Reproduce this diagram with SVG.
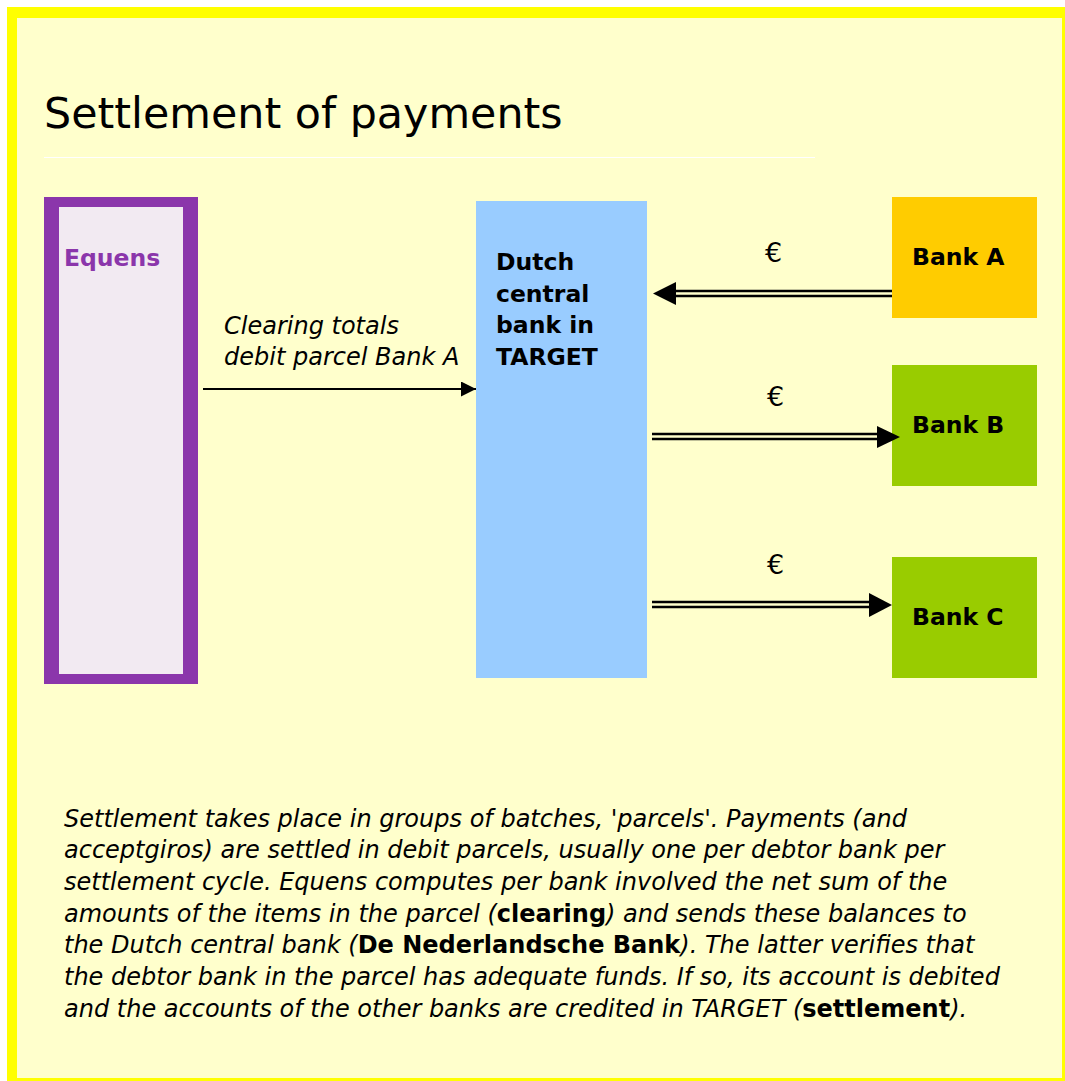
<svg xmlns="http://www.w3.org/2000/svg" width="1065" height="1081" viewBox="0 0 1065 1081">
<style>
.t{font-family:"DejaVu Sans",Verdana,sans-serif;fill:#000}
.b{font-weight:bold;font-size:23.5px}
.i{font-style:italic;font-size:24px}
.eur{font-family:"DejaVu Sans",sans-serif;font-size:27px;fill:#000}
.ln{stroke:#000;stroke-width:2;fill:none}
.dl{stroke:#000;stroke-width:2.4;fill:none}
</style>
<defs>
<marker id="ah" markerWidth="15" markerHeight="15" refX="15" refY="7.5" orient="auto" markerUnits="userSpaceOnUse">
<path d="M0,0 L15,7.5 L0,15 Z" fill="#000"/>
</marker>
</defs>
<rect x="0" y="0" width="1065" height="1081" fill="#FFFFFF"/>
<rect x="7" y="7" width="1058" height="1074" fill="#FFFF00"/>
<rect x="17" y="18" width="1045" height="1060" fill="#FFFFCC"/>
<line x1="44" y1="157.5" x2="815" y2="157.5" stroke="#FFFFFF" stroke-width="1"/>
<text class="t" x="44" y="128" font-size="42.8">Settlement of payments</text>
<g id="equens">
<rect x="44" y="197" width="154" height="487" fill="#8B36AB"/>
<rect x="59" y="207" width="124" height="467" fill="#F2EAF2"/>
<text class="t b" x="64" y="266" style="fill:#8B36AB">Equens</text>
</g>
<g id="dnb">
<rect x="476" y="201" width="171" height="477" fill="#99CCFF"/>
<text class="t b" x="496" y="270">Dutch</text>
<text class="t b" x="496" y="302">central</text>
<text class="t b" x="496" y="333">bank in</text>
<text class="t b" x="496" y="365">TARGET</text>
</g>
<g id="bankA">
<rect x="892" y="197" width="145" height="121" fill="#FFCC00"/>
<text class="t b" x="912" y="265">Bank A</text>
</g>
<g id="bankB">
<rect x="892" y="365" width="145" height="121" fill="#99CC00"/>
<text class="t b" x="912" y="433">Bank B</text>
</g>
<g id="bankC">
<rect x="892" y="557" width="145" height="121" fill="#99CC00"/>
<text class="t b" x="912" y="625">Bank C</text>
</g>
<g id="connectors">
<line class="ln" x1="203" y1="389" x2="476" y2="389" marker-end="url(#ah)"/>
<text class="t i" x="224" y="334">Clearing totals</text>
<text class="t i" x="224" y="365">debit parcel Bank A</text>
<line class="dl" x1="892" y1="291" x2="676" y2="291"/>
<line class="dl" x1="892" y1="296" x2="676" y2="296"/>
<path d="M676,282 L653,293.5 L676,305 Z" fill="#000"/>
<text class="eur" x="765" y="262">€</text>
<line class="dl" x1="652" y1="434" x2="878" y2="434"/>
<line class="dl" x1="652" y1="439" x2="878" y2="439"/>
<path d="M877,426 L900,437 L877,448 Z" fill="#000"/>
<text class="eur" x="767" y="406">€</text>
<line class="dl" x1="652" y1="602" x2="870" y2="602"/>
<line class="dl" x1="652" y1="607" x2="870" y2="607"/>
<path d="M869,593 L892,605 L869,617 Z" fill="#000"/>
<text class="eur" x="767" y="574">€</text>
</g>
<g id="caption" class="t i">
<text x="64" y="827">Settlement takes place in groups of batches, 'parcels'. Payments (and</text>
<text x="64" y="858">acceptgiros) are settled in debit parcels, usually one per debtor bank per</text>
<text x="64" y="890">settlement cycle. Equens computes per bank involved the net sum of the</text>
<text x="64" y="922">amounts of the items in the parcel (<tspan font-style="normal" font-weight="bold">clearing</tspan>) and sends these balances to</text>
<text x="64" y="953">the Dutch central bank (<tspan font-style="normal" font-weight="bold">De Nederlandsche Bank</tspan>). The latter verifies that</text>
<text x="64" y="985">the debtor bank in the parcel has adequate funds. If so, its account is debited</text>
<text x="64" y="1017">and the accounts of the other banks are credited in TARGET (<tspan font-style="normal" font-weight="bold">settlement</tspan>).</text>
</g>
</svg>
